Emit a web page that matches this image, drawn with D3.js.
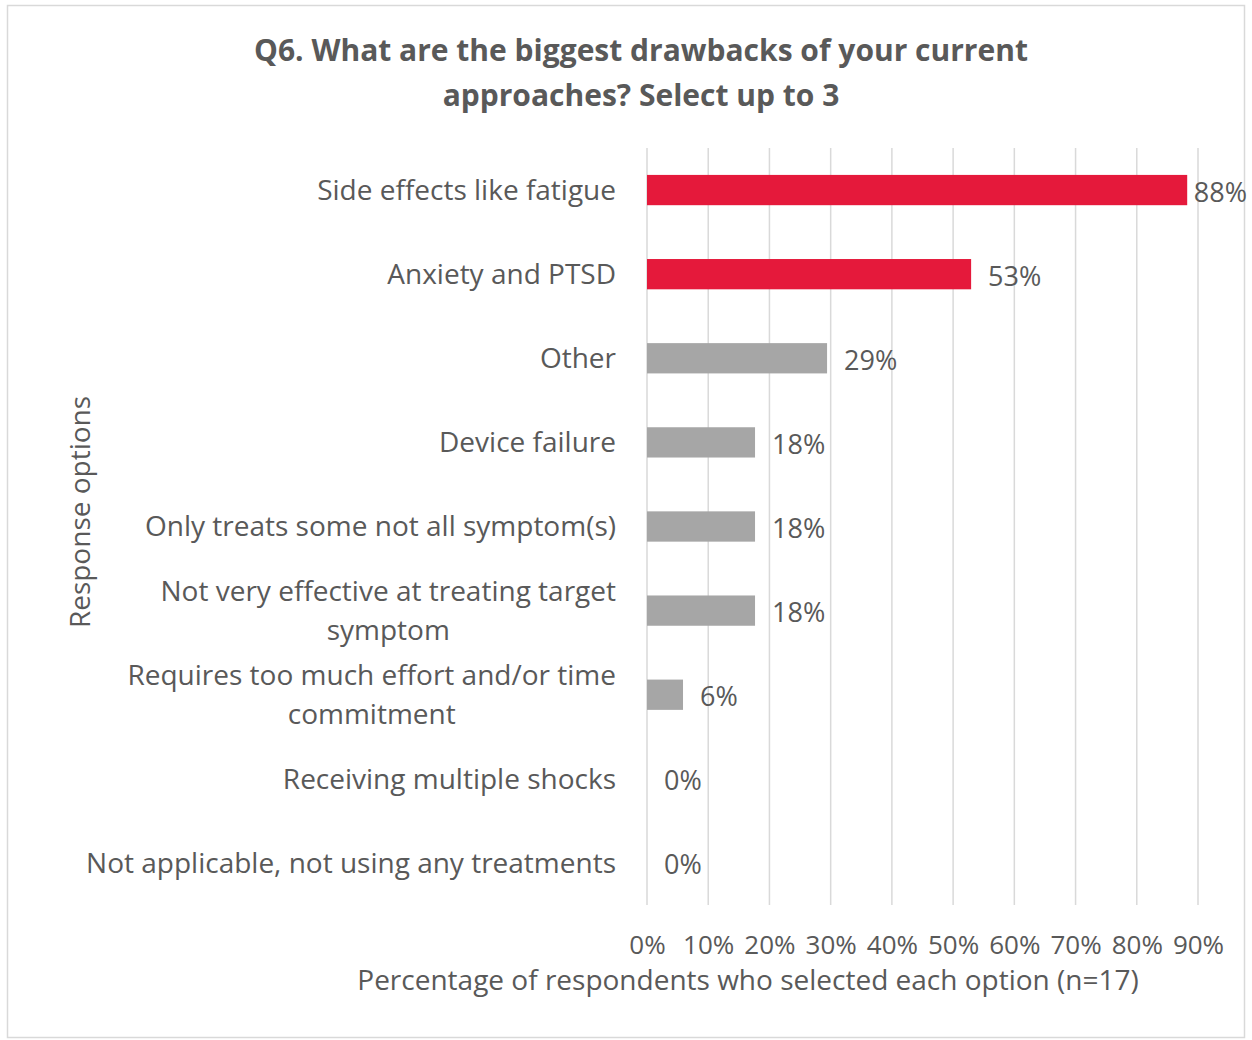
<!DOCTYPE html>
<html lang="en">
<head>
  <meta charset="UTF-8">
  <title>Q6 Drawbacks Bar Chart</title>
  <style>
    body { margin: 0; background: #fff; }
    svg text { font-family: "Open Sans", "Noto Sans", sans-serif; fill: #595959; }
    .grid line { stroke: #d9d9d9; stroke-width: 1.5; }
  </style>
</head>
<body>
<svg class="chart"></svg>

<script src="https://d3js.org/d3.v7.min.js"></script>
<script>
  // Data (n=17)
  const categories = [
    'Side effects like fatigue',
    'Anxiety and PTSD',
    'Other',
    'Device failure',
    'Only treats some not all symptom(s)',
    'Not very effective at treating target|symptom',
    'Requires too much effort and/or time|commitment',
    'Receiving multiple shocks',
    'Not applicable, not using any treatments'
  ];
  const values = [15 / 17, 9 / 17, 5 / 17, 3 / 17, 3 / 17, 3 / 17, 1 / 17, 0, 0];
  const highlighted = [true, true, false, false, false, false, false, false, false];
  const xTicks = [0, 0.1, 0.2, 0.3, 0.4, 0.5, 0.6, 0.7, 0.8, 0.9];

  const width = 1252;
  const height = 1040;
  const margin = { top: 148, right: 54, bottom: 135, left: 647 };
  const labelSize = 28;

  const svg = d3.select('.chart')
    .attr('width', width)
    .attr('height', height);

  // chart border
  svg.append('rect')
    .attr('x', 7.5).attr('y', 5.5)
    .attr('width', 1237).attr('height', 1032)
    .attr('fill', '#fff')
    .attr('stroke', '#d9d9d9')
    .attr('stroke-width', 1.5);

  const xScale = d3.scaleLinear()
    .domain([0, 0.9])
    .range([margin.left, width - margin.right]);

  const yScale = d3.scaleBand()
    .domain(categories)
    .range([margin.top, height - margin.bottom])
    .paddingInner(0.64)
    .paddingOuter(0.32);

  // gridlines
  svg.append('g')
    .attr('class', 'grid')
    .selectAll('line')
    .data(xTicks)
    .enter().append('line')
    .attr('x1', d => xScale(d)).attr('x2', d => xScale(d))
    .attr('y1', margin.top).attr('y2', height - margin.bottom);

  // x axis tick labels
  const xAxis = svg.append('g')
    .attr('transform', `translate(0,${height - margin.bottom})`)
    .call(d3.axisBottom(xScale).tickValues(xTicks).tickFormat(d3.format('.0%')).tickSize(0).tickPadding(31));
  xAxis.select('.domain').remove();
  xAxis.selectAll('text')
    .attr('font-size', 26)
    .style('font-family', '"Open Sans", "Noto Sans", sans-serif')
    .style('fill', '#595959');

  // bars
  svg.selectAll('.bar')
    .data(categories)
    .enter().append('rect')
    .attr('class', 'bar')
    .attr('x', xScale(0))
    .attr('y', d => yScale(d))
    .attr('width', (d, i) => xScale(values[i]) - xScale(0))
    .attr('height', yScale.bandwidth())
    .attr('fill', (d, i) => highlighted[i] ? '#e5193b' : '#a6a6a6');

  // value labels (kept inside the chart border)
  svg.selectAll('.value')
    .data(categories)
    .enter().append('text')
    .attr('class', 'value')
    .attr('y', d => yScale(d) + yScale.bandwidth() / 2 + 2)
    .attr('dy', '0.35em')
    .attr('font-size', 27)
    .text((d, i) => d3.format('.0%')(values[i]))
    .attr('x', function(d, i) {
      const w = this.getComputedTextLength();
      return Math.min(xScale(values[i]) + 17, 1247 - w);
    });

  // category labels (wrapped ones are centred on their first line)
  const labelRight = margin.left - 31;
  categories.forEach(c => {
    const lines = c.split('|');
    const cy = yScale(c) + yScale.bandwidth() / 2;
    const g = svg.append('g').attr('class', 'cat');
    if (lines.length === 1) {
      g.append('text')
        .attr('x', labelRight).attr('y', cy)
        .attr('dy', '0.35em')
        .attr('text-anchor', 'end')
        .attr('font-size', labelSize)
        .text(lines[0]);
    } else {
      const first = g.append('text')
        .attr('x', labelRight).attr('y', cy - 19.5)
        .attr('dy', '0.35em')
        .attr('text-anchor', 'end')
        .attr('font-size', labelSize)
        .text(lines[0]);
      const w = first.node().getComputedTextLength();
      first.attr('text-anchor', 'middle').attr('x', labelRight - w / 2);
      g.append('text')
        .attr('x', labelRight - w / 2).attr('y', cy + 19.5)
        .attr('dy', '0.35em')
        .attr('text-anchor', 'middle')
        .attr('font-size', labelSize)
        .text(lines[1]);
    }
  });

  // title
  const title = svg.append('text')
    .attr('text-anchor', 'middle')
    .attr('font-size', 30)
    .attr('font-weight', 'bold');
  title.append('tspan').attr('x', 641).attr('y', 61).text('Q6. What are the biggest drawbacks of your current');
  title.append('tspan').attr('x', 641).attr('y', 106).text('approaches? Select up to 3');

  // axis titles
  svg.append('text')
    .attr('x', 748).attr('y', 990)
    .attr('text-anchor', 'middle')
    .attr('font-size', labelSize)
    .text('Percentage of respondents who selected each option (n=17)');

  svg.append('text')
    .attr('transform', 'translate(90,512) rotate(-90)')
    .attr('text-anchor', 'middle')
    .attr('font-size', labelSize)
    .text('Response options');
</script>
</body>
</html>
